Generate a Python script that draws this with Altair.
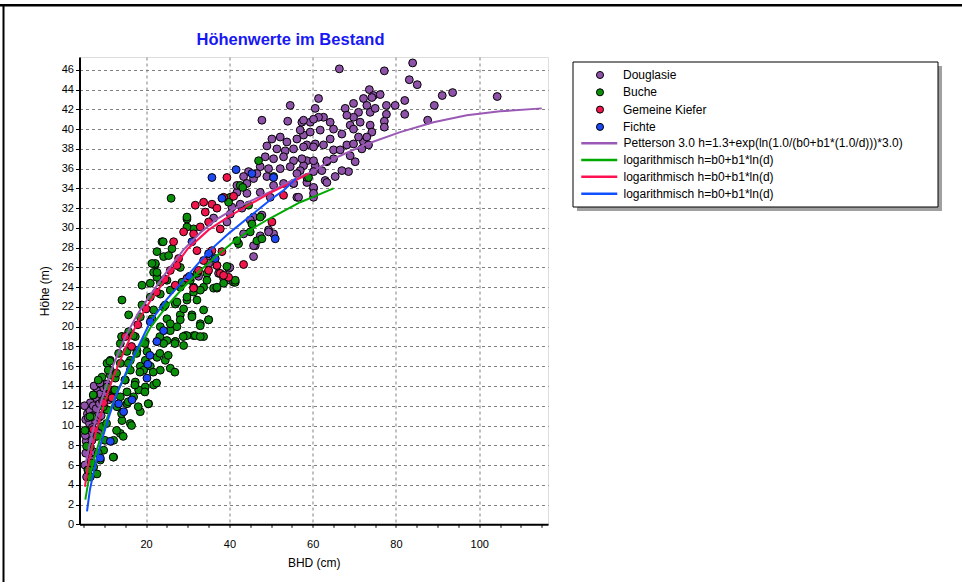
import altair as alt
import pandas as pd

# ---------------- data (BHD cm, Höhe m) ----------------
DOUGLASIE = [
    (66.4, 46.1), (77.2, 45.9), (84.0, 46.7), (83.2, 45.0), (85.1, 44.5), (91.1, 43.4), (93.6, 43.7),
    (104.3, 43.3), (89.2, 42.4), (87.6, 40.9), (82.1, 42.9), (82.1, 41.5), (79.8, 42.4), (77.7, 42.4),
    (77.7, 41.5), (77.2, 40.8), (77.2, 40.2), (61.4, 43.1), (73.6, 44.0), (74.6, 43.4), (76.2, 43.5),
    (72.2, 43.1), (73.0, 42.4), (69.8, 42.6), (67.8, 42.1), (71.0, 41.7), (73.8, 41.7), (75.0, 42.1),
    (69.8, 41.2), (68.2, 41.4), (71.4, 40.7), (73.8, 40.4), (74.2, 39.7), (69.0, 40.4), (69.8, 40.0),
    (67.0, 39.5), (65.0, 40.0), (64.2, 40.7), (62.6, 41.2), (60.6, 42.1), (61.4, 41.2), (59.4, 40.7),
    (57.4, 40.7), (57.8, 39.4), (58.6, 38.4), (60.6, 38.5), (62.6, 38.4), (64.2, 39.0), (65.0, 37.9),
    (66.6, 37.9), (68.2, 38.4), (69.8, 38.5), (72.2, 38.7), (70.2, 36.7), (68.6, 35.7), (67.0, 35.8),
    (65.4, 35.2), (63.0, 34.8), (60.2, 34.0), (60.2, 33.1), (62.2, 35.8), (65.0, 37.0), (63.4, 36.7),
    (60.6, 36.3), (58.6, 36.8), (57.8, 36.3), (69.0, 37.3), (71.0, 39.2), (73.0, 39.2), (71.8, 38.0),
    (74.2, 43.2), (73.4, 38.4),
    (54.6, 42.4), (47.8, 40.9), (54.0, 40.8), (57.8, 40.9), (60.2, 41.0), (57.0, 39.9), (59.4, 39.7),
    (61.8, 39.9), (50.2, 39.0), (52.2, 39.2), (53.8, 38.7), (56.2, 39.0), (49.0, 38.3), (51.4, 38.0),
    (53.4, 37.8), (55.4, 38.0), (57.8, 38.2), (60.2, 38.2), (48.6, 37.2), (50.6, 37.0), (53.0, 37.2),
    (55.4, 36.8), (57.4, 37.0), (60.2, 36.8), (47.4, 36.2), (49.4, 36.0), (52.2, 36.0), (54.6, 36.2),
    (57.0, 35.8), (60.2, 35.7), (44.6, 35.7), (43.4, 35.2), (45.8, 35.0), (49.0, 35.2), (50.6, 34.3),
    (53.0, 34.5), (55.4, 34.5), (58.6, 34.6), (60.2, 34.1), (63.4, 34.6), (41.8, 33.6), (44.2, 33.5),
    (47.4, 33.6), (49.8, 33.1), (56.2, 33.1), (40.6, 32.1), (43.0, 32.0), (45.8, 31.1), (47.8, 31.3),
    (49.4, 29.8), (50.6, 29.4), (46.2, 28.2), (43.4, 29.4), (39.4, 30.6), (36.2, 31.0), (39.8, 25.9),
    (37.4, 25.4), (32.6, 25.1), (34.6, 26.7), (63.4, 36.8), (56.6, 33.1),
    (41.8, 34.3), (44.2, 34.5), (46.6, 35.5), (56.2, 35.5), (60.2, 33.5), (42.6, 32.4), (40.2, 31.4),
    (45.0, 30.8), (45.8, 28.2), (49.4, 29.6), (47.4, 29.2), (45.8, 27.1), (40.2, 24.7), (38.6, 24.9),
    (35.0, 26.4), (55.4, 34.5), (58.6, 35.1), (40.1, 26.0),
    (5.3, 6.0), (5.5, 7.2), (5.6, 8.4), (5.8, 9.5), (5.5, 10.6), (5.9, 11.2), (6.0, 5.5), (6.2, 7.8),
    (6.3, 9.0), (6.4, 10.2), (6.5, 11.5), (6.6, 12.3), (6.8, 6.5), (7.0, 8.5), (7.1, 9.8), (7.2, 11.0),
    (7.3, 12.0), (7.4, 13.0), (7.6, 7.3), (7.8, 10.5), (8.0, 11.7), (8.1, 12.8), (8.3, 13.5), (8.5, 9.2),
    (8.7, 10.8), (8.8, 12.2), (9.0, 13.2), (9.2, 11.0), (9.5, 12.5), (9.8, 13.8), (10.0, 11.8),
    (10.3, 13.0), (10.6, 14.2), (11.0, 12.6), (11.3, 13.6), (6.1, 10.8), (5.4, 9.0), (5.2, 12.0),
    (7.5, 14.0), (8.9, 14.3), (12.0, 13.2), (5.7, 4.8),
]

BUCHE = [
    (22.2, 26.3), (22.6, 25.4), (19.0, 24.2), (14.2, 22.7), (21.0, 24.4), (23.4, 24.5), (25.0, 24.7),
    (21.0, 23.0), (23.4, 23.3), (25.8, 23.7), (28.2, 24.0), (30.6, 24.7), (33.8, 24.0), (36.2, 23.9),
    (38.6, 24.4), (41.0, 24.5), (34.6, 25.4), (32.2, 25.4), (37.0, 26.2), (19.0, 22.2), (21.8, 21.7),
    (24.2, 22.0), (27.0, 22.3), (29.8, 22.7), (32.2, 22.7), (31.4, 23.5), (15.8, 21.2), (18.6, 21.0),
    (21.4, 20.8), (25.0, 20.8), (28.2, 21.2), (31.0, 21.2), (33.0, 20.3), (35.0, 20.7), (29.4, 19.1),
    (31.4, 19.1), (33.8, 19.0), (27.4, 20.0), (25.8, 19.6), (23.4, 20.0), (15.8, 19.5), (14.2, 19.0),
    (17.4, 19.0), (19.8, 18.5), (22.6, 18.5), (25.0, 18.6), (27.0, 18.5), (11.4, 16.6), (13.4, 17.3),
    (15.4, 17.5), (17.8, 17.6), (20.2, 17.5), (22.6, 16.9), (24.6, 16.6), (25.8, 15.8), (23.4, 15.6),
    (21.0, 16.0), (18.6, 16.0), (16.2, 15.6), (13.8, 16.3), (11.4, 15.6), (10.6, 16.3), (12.6, 14.8),
    (15.0, 14.6), (17.4, 14.4), (19.8, 13.9), (21.8, 14.1), (20.6, 12.2), (18.6, 11.4), (17.0, 12.9),
    (15.4, 12.2), (13.8, 12.9), (12.2, 13.6), (10.6, 13.9), (7.4, 13.1), (14.2, 10.5), (16.2, 10.2),
    (13.8, 9.2), (12.2, 8.5), (9.8, 7.5), (12.2, 6.8), (9.0, 6.5), (7.4, 5.8), (8.2, 5.1), (6.6, 4.8),
    (10.6, 11.6), (9.4, 9.9), (8.2, 8.9), (7.0, 10.9), (6.6, 7.8), (9.8, 12.6), (13.0, 11.9),
    (15.4, 13.4), (18.2, 13.6), (19.4, 15.6), (16.2, 16.6), (19.8, 16.6), (13.8, 18.3), (11.4, 15.1),
    (9.4, 14.9),
    (26.0, 33.0), (29.8, 30.9), (31.4, 29.9), (23.8, 28.6), (26.2, 27.9), (24.2, 27.1), (22.2, 26.4),
    (21.8, 25.5), (22.6, 25.0), (28.2, 26.0), (30.6, 25.0), (28.6, 24.5), (31.4, 24.0), (33.0, 23.7),
    (37.0, 23.9), (41.4, 24.5), (29.8, 23.0), (27.4, 22.5), (24.6, 22.2), (29.0, 21.8), (31.0, 21.0),
    (28.2, 20.7), (25.8, 20.3), (33.8, 21.7), (35.0, 20.7), (33.0, 20.1), (29.8, 19.1), (31.8, 19.1),
    (33.0, 19.0), (27.0, 18.5), (24.2, 18.3), (29.0, 18.1), (40.2, 33.1), (42.6, 34.3), (47.4, 31.1),
    (45.0, 29.6), (42.2, 28.4), (46.6, 28.7), (59.0, 35.1),
    (47.0, 36.8), (43.2, 34.1), (50.6, 35.2), (39.8, 32.6), (44.6, 32.3), (45.4, 30.4), (47.8, 28.9),
    (29.8, 31.1), (24.1, 28.6), (22.6, 27.6), (25.4, 27.2), (21.4, 26.4), (22.6, 25.5), (29.8, 30.1),
    (41.8, 28.7), (39.4, 26.1), (41.4, 24.7), (37.0, 24.0), (34.6, 24.7),
    (11.3, 16.5), (14.1, 19.0), (16.9, 19.1), (19.7, 18.3), (26.9, 18.3), (25.3, 17.1), (23.3, 17.3),
    (17.7, 17.3), (15.7, 16.3), (18.5, 15.4), (21.7, 15.4), (22.5, 14.3), (19.7, 13.4), (17.3, 14.1),
    (14.9, 14.6), (12.9, 15.3), (10.9, 15.6), (8.5, 14.6), (7.3, 13.1), (12.5, 13.6), (14.1, 11.2),
    (18.1, 11.9), (16.5, 10.0), (14.5, 8.9), (12.1, 6.8), (12.9, 9.5), (10.1, 8.5), (8.5, 7.2),
    (6.9, 6.2), (6.1, 5.5), (5.7, 7.9), (5.3, 9.5), (6.5, 10.9), (10.5, 10.2), (9.7, 11.9),
    (11.3, 12.9), (28.9, 19.0), (20.5, 12.2), (15.7, 12.4), (23.3, 19.0), (26.9, 15.4),
]

KIEFER = [
    (39.4, 35.1), (35.8, 32.4), (33.8, 32.6), (31.8, 32.3), (34.2, 31.6), (38.6, 33.1), (29.0, 29.6),
    (31.4, 29.4), (33.0, 30.1), (35.0, 30.6), (37.8, 29.9), (26.6, 28.6), (27.8, 26.9), (32.2, 27.7),
    (33.8, 26.7), (35.8, 27.7), (38.2, 27.6), (32.6, 25.7), (35.0, 25.7), (37.8, 25.4), (39.8, 25.0),
    (43.4, 26.3), (53.0, 33.3), (50.2, 30.6), (27.0, 24.2), (29.8, 24.9), (25.8, 25.7), (41.0, 33.2),
    (37.0, 32.0), (7.3, 9.6), (9.8, 12.3), (11.8, 12.8), (27.4, 26.2), (31.4, 23.9), (38.6, 25.2),
    (37.0, 26.2), (22.5, 23.5), (24.5, 24.8), (20.0, 21.8), (18.0, 20.2), (15.0, 19.0), (16.5, 18.0),
]

FICHTE = [
    (35.8, 35.1), (38.2, 33.0), (41.6, 35.9), (45.4, 35.5), (50.6, 35.1), (51.0, 28.9), (31.0, 28.6),
    (35.0, 27.4), (36.6, 26.9), (30.4, 25.1), (24.2, 19.6), (22.6, 18.5), (21.0, 20.5), (20.9, 17.1),
    (20.4, 16.2), (20.2, 14.8), (16.6, 12.6), (14.6, 11.4), (13.4, 12.2), (11.4, 8.4), (9.0, 6.7),
]

CURVE_PETTERSON = [
    (5.4, 6.0), (6.5, 8.2), (8, 10.8), (10, 13.5), (12, 16.0), (15, 19.0), (18, 21.3), (21, 23.2),
    (25, 25.6), (29, 27.8), (33, 29.5), (37, 30.9), (41, 31.9), (45, 32.7), (50, 33.7), (55, 34.8),
    (60, 35.7), (65, 37.0), (73, 38.5), (81, 39.7), (89, 40.7), (97, 41.4), (105, 41.8), (115, 42.1),
]
CURVE_LOG_BUCHE = [
    (5.4, 2.5), (6.2, 4.5), (7.5, 6.6), (9, 8.7), (11, 11.2), (13, 13.3), (15, 15.0), (18, 17.6),
    (21, 19.9), (25, 22.1), (29, 24.0), (33, 25.7), (37, 27.2), (41, 28.6), (45, 29.8), (49, 30.8),
    (53, 31.7), (57, 32.6), (61, 33.3), (65, 34.0),
]
CURVE_LOG_KIEFER = [
    (5.3, 3.8), (6, 5.8), (7, 7.8), (8, 9.4), (10, 12.3), (12, 14.8), (15, 17.8), (18, 20.5),
    (21, 22.6), (25, 25.0), (30, 27.9), (35, 29.8), (40, 31.2), (45, 32.4), (50, 33.6), (55, 34.6),
    (59, 35.5),
]
CURVE_LOG_FICHTE = [
    (5.8, 1.3), (6.5, 3.5), (7.5, 5.5), (9, 8.0), (11, 10.8), (13, 13.3), (15, 15.2), (18, 17.9),
    (21, 20.5), (25, 22.8), (30, 25.2), (35, 27.6), (40, 29.5), (45, 31.2), (50, 32.9), (53, 33.8),
    (56, 35.0),
]

SPECIES = ["Douglasie", "Buche", "Gemeine Kiefer", "Fichte"]
SPECIES_COLORS = ["#8e52a8", "#0b8f0b", "#f0164c", "#1f48f5"]
CURVE_KEYS = ["pet", "logB", "logK", "logF"]
CURVE_LABELS = [
    "Petterson 3.0 h=1.3+exp(ln(1.0/(b0+b1*(1.0/d)))*3.0)",
    "logarithmisch h=b0+b1*ln(d)",
    "logarithmisch h=b0+b1*ln(d)",
    "logarithmisch h=b0+b1*ln(d)",
]
CURVE_COLORS = ["#9b59b6", "#00a800", "#ff1050", "#1050ff"]
TITLE = "Höhenwerte im Bestand"
X_TICKS = list(range(5, 120, 5))
Y_TICKS = list(range(0, 48, 2))
X_DOMAIN = [4, 116.5]
Y_DOMAIN = [0, 47.3]

# ---------------- tables ----------------
rows = []
for gi, (name, pts) in enumerate(zip(SPECIES, [DOUGLASIE, BUCHE, KIEFER, FICHTE])):
    for d, h in pts:
        rows.append({"d": d, "h": h, "species": name, "grp": gi})
pts_df = pd.DataFrame(rows)

lrows = []
for key, curve in zip(CURVE_KEYS, [CURVE_PETTERSON, CURVE_LOG_BUCHE, CURVE_LOG_KIEFER, CURVE_LOG_FICHTE]):
    for i, (d, h) in enumerate(curve):
        lrows.append({"d": d, "h": h, "curve": key, "i": i})
line_df = pd.DataFrame(lrows)

FONT = "Liberation Sans, Arial, sans-serif"
W, H = 468.5, 467.3
PAD_L, PAD_T = 79.5, 57
TOTAL_W, TOTAL_H = 962, 582

xscale = alt.Scale(domain=X_DOMAIN, nice=False, zero=False)
yscale = alt.Scale(domain=Y_DOMAIN, nice=False, zero=False)


def make_xaxis():
    return alt.Axis(
        title="BHD (cm)", values=X_TICKS,
        labelExpr="datum.value % 20 === 0 ? datum.label : ''",
        grid=True, gridDash=[3, 3], gridColor="#808080", gridWidth=1,
        gridOpacity={"condition": {"test": "datum.value % 20 === 0", "value": 1}, "value": 0},
        domainColor="#000000", domainWidth=2, tickColor="#000000", tickSize=3, tickWidth=1,
        labelFont=FONT, labelFontSize=11, labelColor="#000000", labelPadding=11,
        titleFont=FONT, titleFontSize=12, titleFontWeight="normal", titleColor="#000000", titlePadding=8,
        labelOverlap=False, labelFlush=False,
    )


def make_yaxis():
    return alt.Axis(
        title="Höhe (m)", values=Y_TICKS, format="d",
        grid=True, gridDash=[3, 3], gridColor="#808080", gridWidth=1,
        domainColor="#000000", domainWidth=2, tickColor="#000000", tickSize=4, tickWidth=1,
        labelFont=FONT, labelFontSize=11, labelColor="#000000", labelPadding=2,
        titleFont=FONT, titleFontSize=12, titleFontWeight="normal", titleColor="#000000", titlePadding=10,
        labelOverlap=False, labelFlush=False,
    )


one = pd.DataFrame({"k": [0]})

# legend frame with shadow
shadow = alt.Chart(one).mark_rect(fill="#a0a0a0").encode(
    x=alt.value(497.5), x2=alt.value(862.5), y=alt.value(9), y2=alt.value(154))
box = alt.Chart(one).mark_rect(fill="white", stroke="#000000", strokeWidth=1).encode(
    x=alt.value(493.5), x2=alt.value(858.5), y=alt.value(5), y2=alt.value(150))

points = alt.Chart(pts_df).mark_point(
    filled=True, shape="circle", size=62, stroke="#000000", strokeWidth=1, opacity=1
).encode(
    x=alt.X("d:Q", scale=xscale, axis=make_xaxis()),
    y=alt.Y("h:Q", scale=yscale, axis=make_yaxis()),
    fill=alt.Fill("species:N", scale=alt.Scale(domain=SPECIES, range=SPECIES_COLORS),
                  legend=alt.Legend(title=None, orient="none", legendX=514.5, legendY=12,
                                    symbolType="circle", symbolSize=50, symbolStrokeColor="#000000",
                                    symbolStrokeWidth=1, symbolOpacity=1,
                                    labelFont=FONT, labelFontSize=12, labelColor="#000000",
                                    labelOffset=17, rowPadding=5.3, padding=0)),
    order=alt.Order("grp:Q"),
)

lab_expr = ""
for k, v in zip(CURVE_KEYS[:-1], CURVE_LABELS[:-1]):
    lab_expr += f"datum.value === '{k}' ? '{v}' : "
lab_expr += f"'{CURVE_LABELS[-1]}'"

lines = alt.Chart(line_df).mark_line(strokeWidth=2).encode(
    x=alt.X("d:Q", scale=xscale, axis=make_xaxis()),
    y=alt.Y("h:Q", scale=yscale, axis=make_yaxis()),
    stroke=alt.Stroke("curve:N", scale=alt.Scale(domain=CURVE_KEYS, range=CURVE_COLORS),
                      legend=alt.Legend(title=None, orient="none", legendX=512.25, legendY=78.75,
                                        symbolType="M-3,0H3", symbolSize=144, symbolStrokeWidth=2.5,
                                        labelExpr=lab_expr, labelLimit=500,
                                        labelFont=FONT, labelFontSize=12, labelColor="#000000",
                                        labelOffset=16.75, rowPadding=2.8, padding=0)),
    order=alt.Order("i:Q"),
)

title = alt.Chart(one).mark_text(
    text=TITLE, font=FONT, fontSize=16.5, fontWeight="bold", color="#1818f5",
    align="center", baseline="middle"
).encode(x=alt.value(290.5 - PAD_L), y=alt.value(39.5 - PAD_T))

# page frame (top and left edges) drawn as thin rectangles
frame_top = alt.Chart(one).mark_rect(fill="#000000").encode(
    x=alt.value(-PAD_L), x2=alt.value(TOTAL_W - PAD_L), y=alt.value(4 - PAD_T), y2=alt.value(6.5 - PAD_T))
frame_left = alt.Chart(one).mark_rect(fill="#000000").encode(
    x=alt.value(2.5 - PAD_L), x2=alt.value(4.5 - PAD_L), y=alt.value(4 - PAD_T), y2=alt.value(TOTAL_H - PAD_T))

chart = alt.layer(shadow, box, points, lines, title, frame_top, frame_left).resolve_scale(
    fill="independent", stroke="independent"
).properties(
    width=W, height=H,
    autosize=alt.AutoSizeParams(type="none"),
    padding={"left": PAD_L, "top": PAD_T, "right": TOTAL_W - PAD_L - W, "bottom": TOTAL_H - PAD_T - H},
).configure_view(stroke="#404040", strokeWidth=1).configure(background="white")

chart.save("out.html", embed_options={"renderer": "svg", "actions": False})
